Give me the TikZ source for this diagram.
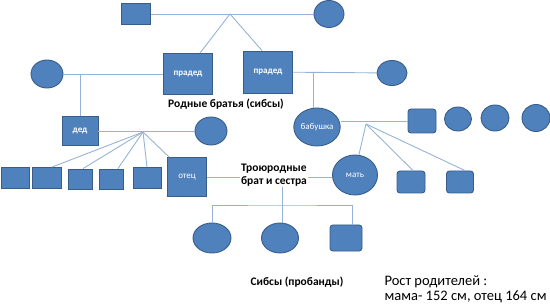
\documentclass[tikz,border=0pt]{standalone}
\usepackage{fontspec}
\setmainfont{Carlito}
\usepackage{tikz}
\usetikzlibrary{positioning, shapes.geometric}
\definecolor{nodeblue}{RGB}{79,129,189}
\definecolor{nodeedge}{RGB}{56,93,138}
\definecolor{linkblue}{RGB}{149,179,215}

\begin{document}
\begin{tikzpicture}[x=1pt, y=-1pt,
  person/.style={draw=nodeedge, fill=nodeblue, line width=0.9pt, inner sep=0pt,
    text=white, font=\fontsize{9}{10}\selectfont},
  sz/.style 2 args={minimum width=#1pt, minimum height=#2pt},
  male/.style={person, rectangle},
  rmale/.style={person, rectangle, rounded corners=3pt},
  female/.style={person, ellipse},
  link/.style={draw=linkblue, line width=0.9pt},
  lbl/.style={font=\fontsize{11.5}{13}\selectfont\bfseries, align=left}]
  \useasboundingbox (0,0) rectangle (550,305);
  \node[male, sz={29}{21}] (ggf) at (136,14) {};
  \node[female, sz={30}{27}] (ggm) at (329,14) {};
  \node[male, sz={49}{41}, font=\fontsize{9}{10}\selectfont\bfseries] (pr1) at (188,74) {прадед};
  \node[male, sz={49}{42}, font=\fontsize{9}{10}\selectfont\bfseries] (pr2) at (268,72) {прадед};
  \node[female, sz={32}{28}] (pw1) at (47,74) {};
  \node[female, sz={30}{25}] (pw2) at (392,73) {};
  \node[male, sz={36}{29}, font=\fontsize{9}{10}\selectfont\bfseries] (ded) at (80,131) {дед};
  \node[female, sz={32}{28}] (dw) at (211,131) {};
  \node[male, sz={28}{21}] (s1) at (15,178) {};
  \node[male, sz={29}{21}] (s2) at (47,178) {};
  \node[male, sz={24}{20}] (s3) at (80,179) {};
  \node[male, sz={24}{20}] (s4) at (111,179) {};
  \node[male, sz={28}{21}] (s5) at (147,178) {};
  \node[male, sz={39}{39}] (otec) at (187,177) {отец};
  \node[female, sz={46}{38}] (bab) at (317,127) {бабушка};
  \node[rmale, sz={28}{24}] (b1) at (422,121) {};
  \node[female, sz={27}{24}] (b2) at (458,119) {};
  \node[female, sz={28}{26}] (b3) at (495,118) {};
  \node[female, sz={28}{27}] (b4) at (536,118) {};
  \node[female, sz={45}{40}] (mat) at (355,175) {мать};
  \node[rmale, sz={28}{22}] (m1) at (411,182) {};
  \node[rmale, sz={27}{22}] (m2) at (460,182) {};
  \node[female, sz={38}{30}] (c1) at (212,238) {};
  \node[female, sz={37}{30}] (c2) at (280,238) {};
  \node[rmale, sz={32}{26}] (c3) at (346,238) {};

  \coordinate (h1) at (230,14);
  \coordinate (h2) at (80,74);
  \coordinate (h3) at (313,72);
  \coordinate (h4) at (143,132);
  \coordinate (h5) at (366,124);
  \coordinate (sib) at (282,205);
  \draw[link] (ggf) -- (ggm);
  \draw[link] ([xshift=12pt]pr1.north) -- (h1) -- ([xshift=-6pt]pr2.north);
  \draw[link] (pw1) -- (pr1);
  \draw[link] (pr2) -- (pw2);
  \draw[link] (h2) -- (h2 |- ded.north);
  \draw[link] (h3) -- (h3 |- bab.north);
  \draw[link] (ded) -- (dw);
  \foreach \n/\dx in {s2/5,s3/3,s4/7,s5/0} \draw[link] (h4) -- ([xshift=\dx pt]\n.north);
  \draw[link] (h4) -- ([xshift=2pt]otec.north west);
  \draw[link] (b1.west) -- (b1.west -| bab.east);
  \foreach \n/\dx in {mat/4,m1/2,m2/5} \draw[link] (h5) -- ([xshift=\dx pt]\n.north);
  \draw[link] (otec.east) -- (otec.east -| mat.west);
  \draw[link] (otec.east -| sib) -- (sib |- c2.north);
  \draw[link] (c1.north) |- (sib) -| ([xshift=6pt]c3.north);

  \node[lbl] (rodnye) at (226,104) {Родные братья (сибсы)};
  \node[lbl, fill=white, inner sep=1pt] (troj) at (274,175) {Троюродные\\брат и сестра};
  \node[lbl] (probandy) at (297,282) {Сибсы (пробанды)};
  \node[font=\fontsize{14.5}{15}\selectfont, align=left, anchor=west] (rost) at (381,289)
    {Рост родителей :\\мама- 152 см, отец 164 см};
\end{tikzpicture}
\end{document}
